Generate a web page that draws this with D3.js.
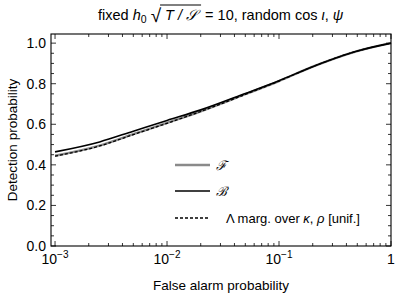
<!DOCTYPE html>
<html><head><meta charset="utf-8">
<script src="https://cdn.jsdelivr.net/npm/d3@7"></script>
<style>body{margin:0;background:#fff}svg{display:block}text{font-family:"Liberation Sans",Arial,sans-serif;fill:#000}</style>
</head><body>
<script>
const fap   = [0.001, 0.0025, 0.005, 0.01, 0.02, 0.05, 0.1, 0.2, 0.5, 1.0];
const detB  = [0.464, 0.513, 0.566, 0.619, 0.671, 0.752, 0.815, 0.884, 0.961, 1.0];
const detF  = [0.445, 0.495, 0.551, 0.607, 0.664, 0.748, 0.813, 0.884, 0.961, 1.0];
const detL  = [0.443, 0.493, 0.549, 0.605, 0.663, 0.747, 0.813, 0.884, 0.961, 1.0];
const xMajor = [0.001, 0.01, 0.1, 1];
const xMajorExp = ["-3", "-2", "-1", null];
const yMajor = [0, 0.2, 0.4, 0.6, 0.8, 1.0];
const yLabels = ["0.0", "0.2", "0.4", "0.6", "0.8", "1.0"];
const legendLabels = ["ℱ", "ℬ", "Λ marg. over κ, ρ [unif.]"];

const W = 400, H = 298;
const L = 51, R = 391, T = 34, B = 246;
const svg = d3.select("body").append("svg").attr("width", W).attr("height", H);
const x = d3.scaleLog().domain([Math.pow(10, -3.036), 1]).range([L, R]);
const y = d3.scaleLinear().domain([0, 1.045]).range([B, T]);

const xMinor = [];
[0.001, 0.01, 0.1].forEach(d => { for (let k = 2; k <= 9; k++) xMinor.push(d * k); });
const yMinor = d3.range(0, 1.0401, 0.05).filter(v => Math.abs(v * 5 - Math.round(v * 5)) > 1e-6);

const g = svg.append("g");
function tickLines(vals, len) {
  vals.forEach(v => {
    const px = x(v);
    g.append("line").attr("x1", px).attr("x2", px).attr("y1", B).attr("y2", B - len).attr("stroke", "#000").attr("stroke-width", 0.8);
    g.append("line").attr("x1", px).attr("x2", px).attr("y1", T).attr("y2", T + len).attr("stroke", "#000").attr("stroke-width", 0.8);
  });
}
function tickLinesY(vals, len) {
  vals.forEach(v => {
    const py = y(v);
    g.append("line").attr("x1", L).attr("x2", L + len).attr("y1", py).attr("y2", py).attr("stroke", "#000").attr("stroke-width", 0.8);
    g.append("line").attr("x1", R).attr("x2", R - len).attr("y1", py).attr("y2", py).attr("stroke", "#000").attr("stroke-width", 0.8);
  });
}
tickLines(xMajor, 5); tickLines(xMinor, 3);
tickLinesY(yMajor, 5); tickLinesY(yMinor, 3);

const line = (arr) => d3.line().x((d, i) => x(fap[i])).y((d, i) => y(arr[i])).curve(d3.curveMonotoneX)(arr);
svg.append("path").attr("d", line(detF)).attr("fill", "none").attr("stroke", "#8a8a8a").attr("stroke-width", 2.4);
svg.append("path").attr("d", line(detB)).attr("fill", "none").attr("stroke", "#000").attr("stroke-width", 1.6);
svg.append("path").attr("d", line(detL)).attr("fill", "none").attr("stroke", "#000").attr("stroke-width", 1.3).attr("stroke-dasharray", "3,2");

svg.append("rect").attr("x", L).attr("y", T).attr("width", R - L).attr("height", B - T).attr("fill", "none").attr("stroke", "#000").attr("stroke-width", 1.1);

yMajor.forEach((v, i) => {
  svg.append("text").attr("x", L - 5).attr("y", y(v) + 5).attr("text-anchor", "end").attr("font-size", 14).text(yLabels[i]);
});
xMajor.forEach((v, i) => {
  const t = svg.append("text").attr("x", x(v)).attr("y", 264).attr("text-anchor", "middle").attr("font-size", 14);
  if (xMajorExp[i] === null) { t.text("1"); }
  else {
    t.append("tspan").text("10");
    t.append("tspan").attr("dy", -6).attr("font-size", 10).text("−" + xMajorExp[i].slice(1));
  }
});

svg.append("text").attr("x", 221).attr("y", 290).attr("text-anchor", "middle").attr("font-size", 13.5).text("False alarm probability");
svg.append("text").attr("transform", "translate(17,140) rotate(-90)").attr("text-anchor", "middle").attr("font-size", 13.5).text("Detection probability");

// title
const title = svg.append("text").attr("x", 98).attr("y", 20).attr("font-size", 14.5);
title.append("tspan").text("fixed\u00a0");
title.append("tspan").attr("font-style", "italic").text("h");
title.append("tspan").attr("font-size", 10.5).attr("dy", 3).text("0");
title.append("tspan").attr("dy", -3).text("\u00a0");
title.append("tspan").attr("font-size", 19).attr("dy", 2).text("√");
const sq = title.append("tspan").attr("dy", -2).attr("font-style", "italic").text("\u00a0T / 𝒮\u00a0");
title.append("tspan").text("\u00a0= 10, random cos ");
title.append("tspan").attr("font-style", "italic").text("ι");
title.append("tspan").text(", ");
title.append("tspan").attr("font-style", "italic").text("ψ");
const tn = title.node();
const n = sq.node();
let startX = 0, endX = 0;
try {
  const chars = n.getNumberOfChars();
  const idx0 = tn.textContent.indexOf(n.textContent);
  startX = tn.getStartPositionOfChar(idx0).x;
  endX = tn.getEndPositionOfChar(idx0 + chars - 1).x;
} catch (e) { startX = 145; endX = 192; }
svg.append("line").attr("x1", startX - 1).attr("x2", endX).attr("y1", 5).attr("y2", 5).attr("stroke", "#000").attr("stroke-width", 1);

const legY = [165, 191, 218];
const legStyle = [
  {c: "#8a8a8a", w: 2.4, d: null},
  {c: "#000", w: 1.6, d: null},
  {c: "#000", w: 1.3, d: "3,2"}
];
legendLabels.forEach((lab, i) => {
  const ln = svg.append("line").attr("x1", 175).attr("x2", 210).attr("y1", legY[i]).attr("y2", legY[i])
    .attr("stroke", legStyle[i].c).attr("stroke-width", legStyle[i].w);
  if (legStyle[i].d) ln.attr("stroke-dasharray", legStyle[i].d);
  const t = svg.append("text").attr("x", i < 2 ? 216 : 226).attr("y", legY[i] + 5).attr("font-size", 13);
  if (i < 2) t.attr("font-family", "DejaVu Serif").attr("font-style", "italic").text(lab);
  else {
    t.append("tspan").text("Λ marg. over ");
    t.append("tspan").attr("font-style", "italic").text("κ");
    t.append("tspan").text(", ");
    t.append("tspan").attr("font-style", "italic").text("ρ");
    t.append("tspan").text(" [unif.]");
  }
});
</script>
</body></html>
